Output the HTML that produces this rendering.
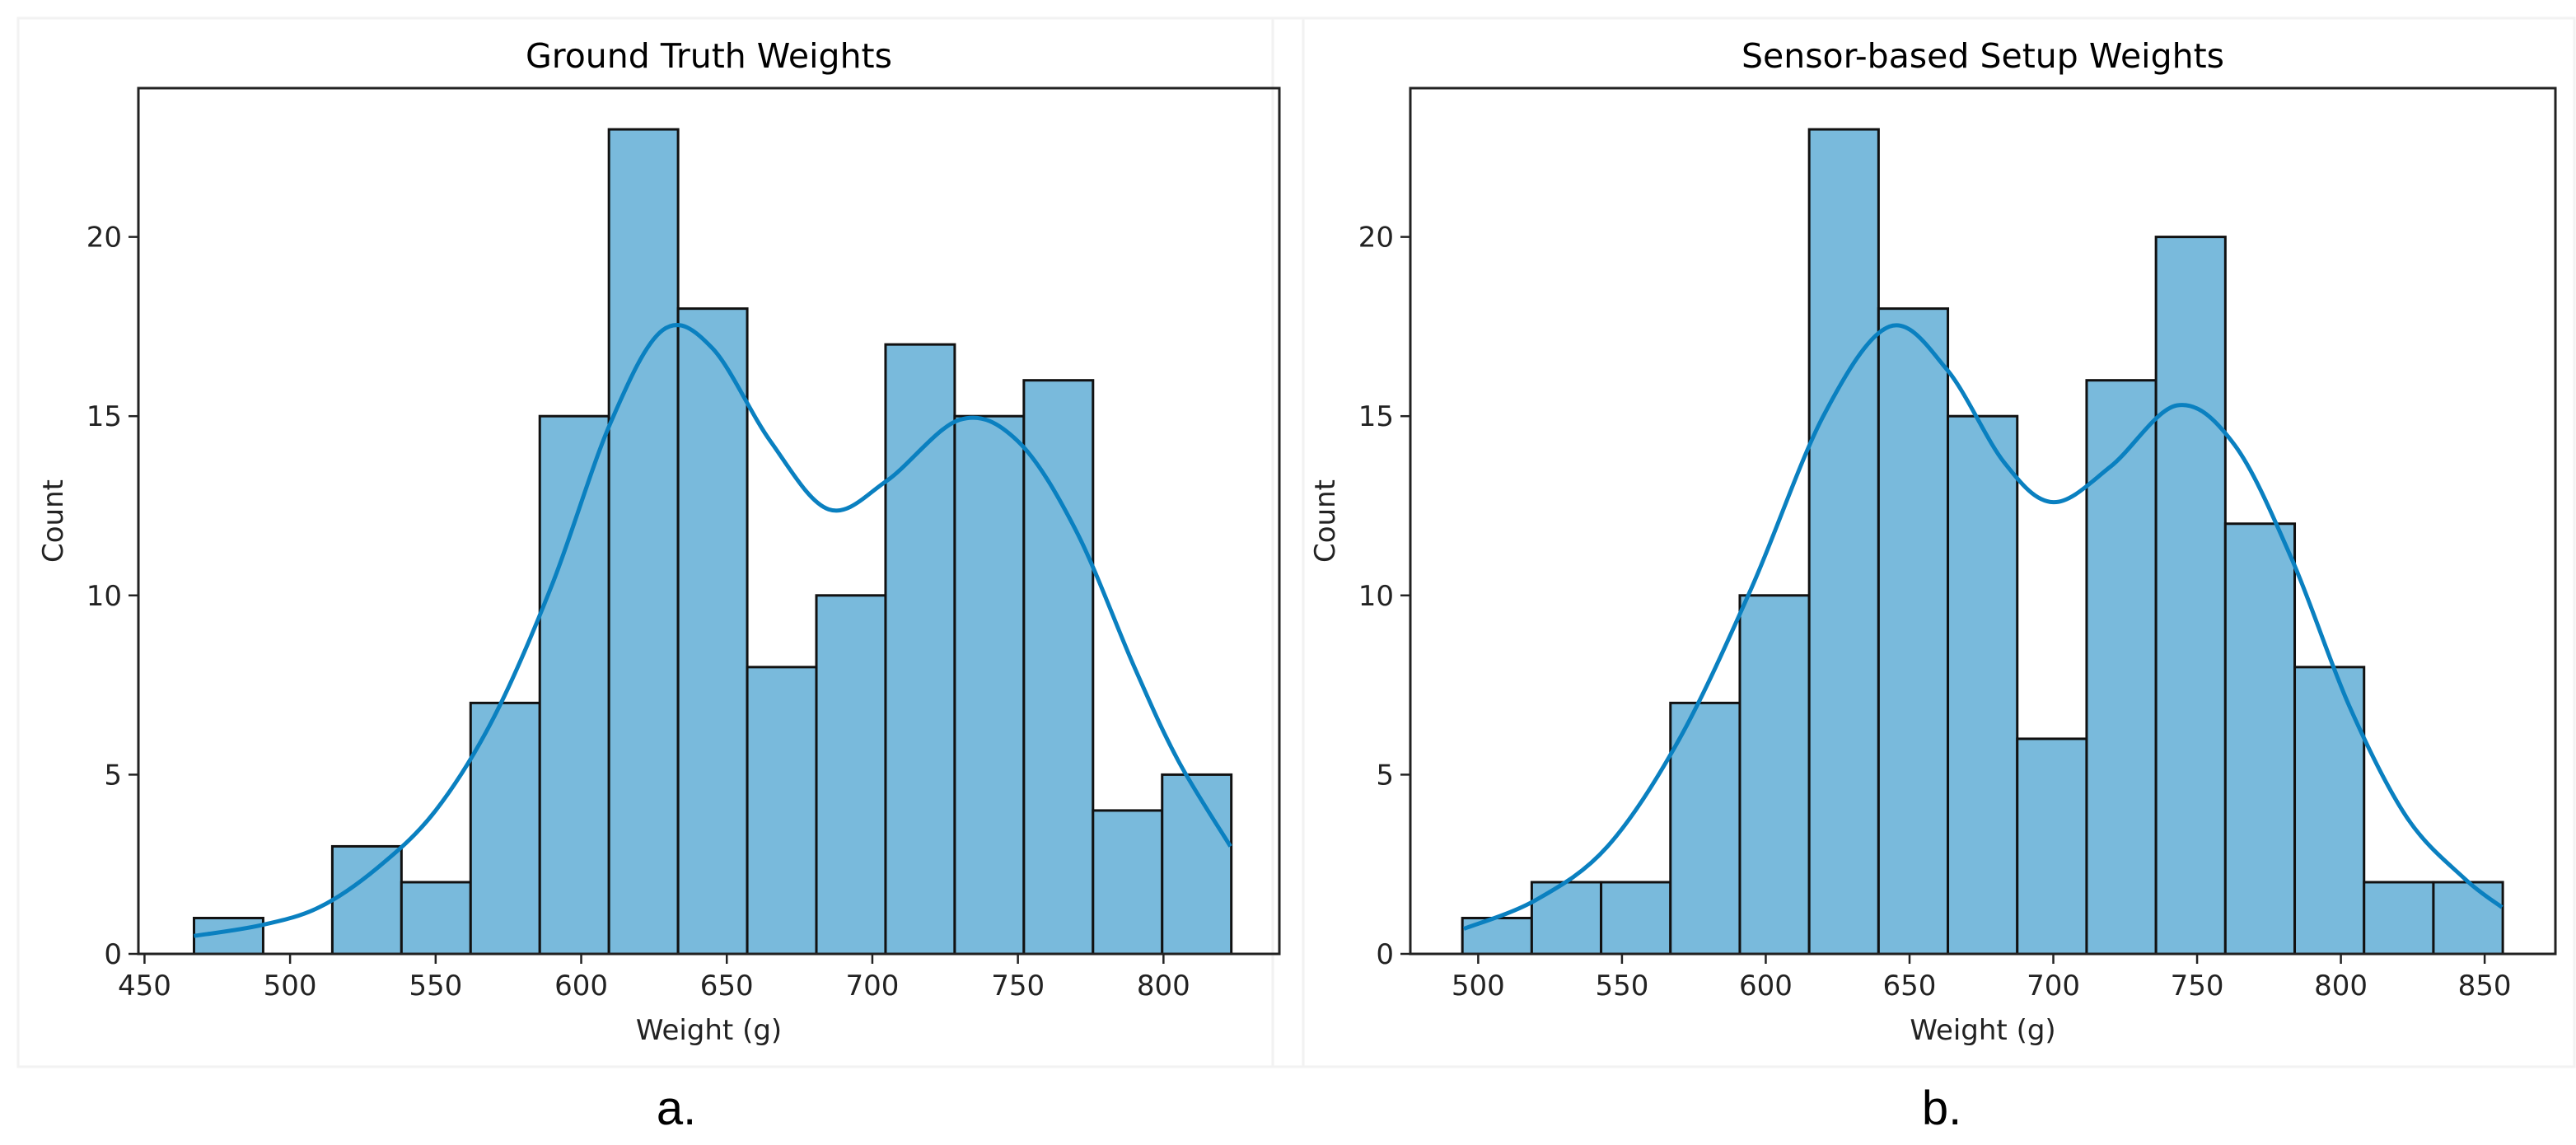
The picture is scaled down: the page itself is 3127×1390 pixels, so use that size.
<!DOCTYPE html>
<html><head><meta charset="utf-8"><style>
html,body{margin:0;padding:0;background:#fff;}
svg{display:block;font-family:"DejaVu Sans","Liberation Sans",sans-serif;}
</style></head><body>
<svg id="fig" width="3127" height="1390" viewBox="0 0 3127 1390">
<rect x="22" y="22" width="1560" height="1273" fill="none" stroke="#f2f2f2" stroke-width="3"/>
<rect x="1545" y="22" width="1580" height="1273" fill="none" stroke="#f2f2f2" stroke-width="3"/>
<g id="plotA"></g>
<g id="plotB"></g>
<text x="821" y="1365" font-family="Liberation Sans, sans-serif" font-size="58" text-anchor="middle">a.</text>
<text x="2357" y="1365" font-family="Liberation Sans, sans-serif" font-size="58" text-anchor="middle">b.</text>
</svg>
<script>
const countsA = [1,0,3,2,7,15,23,18,8,10,17,15,16,4,5];
const binStartA = 467, binEndA = 823.3;
const kdeXA = [467,490,510,530,550,570,590,610,628,645,665,685,705,730,750,770,790,805,823];
const kdeYA = [0.5,0.8,1.3,2.4,4.0,6.6,10.3,14.8,17.4,16.9,14.3,12.4,13.2,14.9,14.3,11.8,8.0,5.4,3.0];
const xTicksA = [450,500,550,600,650,700,750,800];

const countsB = [1,2,2,7,10,23,18,15,6,16,20,12,8,2,2];
const binStartB = 494.5, binEndB = 856.3;
const kdeXB = [495,520,545,570,595,620,643,663,683,700,720,743,763,783,803,823,843,856];
const kdeYB = [0.7,1.5,3.0,6.0,10.2,15.0,17.5,16.3,13.7,12.6,13.6,15.3,14.2,11.0,6.9,3.8,2.1,1.3];
const xTicksB = [500,550,600,650,700,750,800,850];

const yTicks = [0,5,10,15,20];

const NS = "http://www.w3.org/2000/svg";
function mk(tag, attrs, parent){const e=document.createElementNS(NS,tag);for(const k in attrs)e.setAttribute(k,attrs[k]);parent.appendChild(e);return e;}

function draw(g, cfg){
  const L=cfg.left,R=cfg.right,T=107,B=1158;
  const xs=v=>L+(v-cfg.xmin)/(cfg.xmax-cfg.xmin)*(R-L);
  const ys=v=>B-v/24.15*(B-T);
  const t=mk('text',{x:(L+R)/2,y:82,'font-size':41,'text-anchor':'middle'},g);t.textContent=cfg.title;
  
  
  const n=cfg.counts.length,w=(cfg.b1-cfg.b0)/n;
  cfg.counts.forEach((c,i)=>{
    if(c<=0)return;
    const x0=xs(cfg.b0+i*w),x1=xs(cfg.b0+(i+1)*w);
    const r=mk('rect',{x:x0,y:ys(c),width:x1-x0,height:ys(0)-ys(c),fill:'#79badc',stroke:'#111','stroke-width':3},g);
    
    
  });
  const P=cfg.kx.map((x,i)=>[xs(x),ys(cfg.ky[i])]);
  let d='M'+P[0][0]+','+P[0][1];
  for(let i=0;i<P.length-1;i++){
    const p0=P[Math.max(0,i-1)],p1=P[i],p2=P[i+1],p3=P[Math.min(P.length-1,i+2)];
    d+=' C'+(p1[0]+(p2[0]-p0[0])/6)+','+(p1[1]+(p2[1]-p0[1])/6)+' '+(p2[0]-(p3[0]-p1[0])/6)+','+(p2[1]-(p3[1]-p1[1])/6)+' '+p2[0]+','+p2[1];
  }
  const kde=mk('path',{d:d,fill:'none',stroke:'#0a80c0','stroke-width':5},g);
  
  
  const ax=mk('rect',{x:L,y:T,width:R-L,height:B-T,fill:'none',stroke:'#222','stroke-width':3},g);
  
  
  cfg.xt.forEach(v=>{
    mk('line',{x1:xs(v),x2:xs(v),y1:B,y2:B+12,stroke:'#222','stroke-width':2.5},g);
    const tl=mk('text',{x:xs(v),y:B+50,'font-size':34,'text-anchor':'middle',fill:'#222'},g);tl.textContent=v;
    
    
  });
  yTicks.forEach(v=>{
    mk('line',{x1:L-12,x2:L,y1:ys(v),y2:ys(v),stroke:'#222','stroke-width':2.5},g);
    const tl=mk('text',{x:L-20,y:ys(v)+12,'font-size':34,'text-anchor':'end',fill:'#222'},g);tl.textContent=v;
    
    
  });
  const xl=mk('text',{x:(L+R)/2,y:1262,'font-size':34,'text-anchor':'middle',fill:'#222'},g);xl.textContent='Weight (g)';
  
  
  const cy=(T+B)/2;
  const yl=mk('text',{x:L-92,y:cy,'font-size':34,'text-anchor':'middle',fill:'#222',transform:'rotate(-90 '+(L-92)+' '+cy+')'},g);yl.textContent='Count';
  
  
}
draw(document.getElementById('plotA'),{left:168,right:1553,xmin:447.9,xmax:839.8,title:'Ground Truth Weights',counts:countsA,b0:binStartA,b1:binEndA,kx:kdeXA,ky:kdeYA,xt:xTicksA});
draw(document.getElementById('plotB'),{left:1712,right:3102,xmin:476.4,xmax:874.6,title:'Sensor-based Setup Weights',counts:countsB,b0:binStartB,b1:binEndB,kx:kdeXB,ky:kdeYB,xt:xTicksB});
</script>
</body></html>
